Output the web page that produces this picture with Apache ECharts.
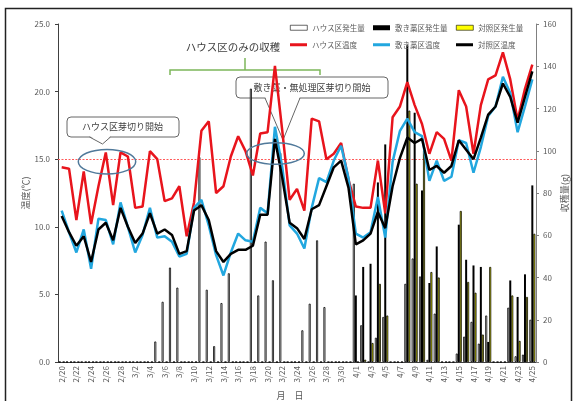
<!DOCTYPE html>
<html><head><meta charset="utf-8">
<script src="https://cdn.jsdelivr.net/npm/echarts@6/dist/echarts.min.js"></script>
<style>html,body{margin:0;padding:0;background:#fff}#c{width:576px;height:401px}</style>
</head><body><div id="c"></div>
<script>
const dates = ['2/20','2/21','2/22','2/23','2/24','2/25','2/26','2/27','2/28',
 '3/1','3/2','3/3','3/4','3/5','3/6','3/7','3/8','3/9','3/10','3/11','3/12','3/13','3/14','3/15','3/16','3/17','3/18','3/19','3/20','3/21','3/22','3/23','3/24','3/25','3/26','3/27','3/28','3/29','3/30','3/31',
 '4/1','4/2','4/3','4/4','4/5','4/6','4/7','4/8','4/9','4/10','4/11','4/12','4/13','4/14','4/15','4/16','4/17','4/18','4/19','4/20','4/21','4/22','4/23','4/24','4/25'];

const houseTemp = [14.4,14.3,10.5,14.1,10.2,13.0,15.5,11.6,15.5,15.2,
 11.4,11.5,15.6,15.0,11.9,12.1,13.0,9.3,11.8,17.1,
 17.8,12.5,13.0,15.2,16.7,15.6,13.8,16.9,17.0,21.9,
 17.1,12.0,12.8,11.2,18.0,17.8,15.0,15.4,16.2,13.5,
 11.5,11.4,11.4,14.9,11.0,18.1,18.9,20.7,19.0,17.6,
 15.4,17.0,16.5,14.9,20.1,18.9,15.4,19.0,20.9,21.2,
 22.9,20.9,17.9,20.2,22.0];
const shikiTemp = [11.2,9.6,8.1,9.8,6.9,10.6,10.5,8.7,11.8,10.0,
 8.1,9.4,11.4,9.2,9.3,8.9,7.8,8.0,11.4,12.0,
 10.1,7.9,6.4,8.1,9.5,9.0,8.9,11.4,11.0,17.4,
 14.4,10.1,9.5,8.4,11.4,13.6,13.3,14.9,16.0,13.6,
 9.5,9.2,9.6,12.2,9.2,14.8,17.1,18.0,17.0,16.7,
 13.4,14.9,13.4,13.7,16.4,16.2,14.0,15.9,18.2,18.9,
 21.1,19.9,17.0,18.9,20.9];
const taishoTemp = [10.8,9.6,8.6,9.3,7.4,9.8,10.3,9.0,11.4,10.0,
 8.8,9.5,11.0,9.5,9.8,9.4,8.0,8.2,11.2,11.6,
 10.5,8.2,7.4,8.0,8.3,8.3,8.6,10.9,10.9,16.5,
 13.6,10.3,9.9,9.1,11.3,11.6,13.0,14.4,14.9,12.9,
 8.7,9.0,9.5,11.1,9.9,13.0,15.1,16.6,16.2,16.5,
 14.2,14.5,14.0,14.5,16.4,15.7,15.0,16.6,18.3,18.9,
 20.6,19.6,17.7,19.6,21.5];

const houseYield = [0,0,0,0,0,0,0,0,0,0,
 0,0,0,9.7,28.5,44.7,35.2,0,0,97,
 34.2,7.5,27.9,42,0,0,129.4,31.5,57,38.7,
 99,0,0,15,27.6,57.6,26,0,0,0,
 84.4,17.4,0,11.5,21.3,0,0,37,49,40.5,
 1,22.9,0,0,4,12,19,8.7,22,0,
 0,25.7,2.7,3.5,20];
const shikiYield = [0,0,0,0,0,0,0,0,0,0,
 0,0,0,0,0,0,0,0,0,0,
 0,0,0,0,0,0,0,0,0,0,
 0,0,0,0,0,0,0,0,0,0,
 31.5,45,46.5,85,103,0,0,150,118,81.2,
 37.4,54.7,0,0,65,48.4,45.7,45,9.5,0,
 0,38.6,30.8,41.5,83.6];
const taishoYield = [0,0,0,0,0,0,0,0,0,0,
 0,0,0,0,0,0,0,0,0,0,
 0,0,0,0,0,0,0,0,0,0,
 0,0,0,0,0,0,0,0,0,0,
 0,1.1,9,37,22,0,0,119,84.4,100,
 42.6,40,0,0,71.5,37.9,32.8,13,45,0,
 0,31.5,10,30.8,60.7];

const tempTicks = [0, 25, 5];
const yieldTicks = [0, 160, 20];
const refTemp = 15;

const FONT = '"Noto Sans CJK JP", "Noto Sans", sans-serif';
const GRAY = '#595959';
const REF = '#ff5a5a';
const chart = echarts.init(document.getElementById('c'), null, {renderer: 'canvas'});

function leg(name, left, top, h, style) {
  const item = {name: name, icon: 'rect', itemStyle: style};
  return {show: true, data: [item], left: left, top: top, itemWidth: 17, itemHeight: h,
    padding: 0, selectedMode: false,
    textStyle: {fontSize: 7.5, color: GRAY, fontFamily: FONT}};
}

const option = {
  animation: false,
  textStyle: {fontFamily: FONT},
  grid: {left: 58, right: 40, top: 24, bottom: 39, containLabel: false, outerBoundsMode: 'none'},
  legend: [
    leg('ハウス区発生量', 290, 24, 5, {color: '#ffffff', borderColor: '#000', borderWidth: 0.6}),
    leg('敷き藁区発生量', 373, 24, 5, {color: '#000000', borderWidth: 0}),
    leg('対照区発生量', 456, 24, 5, {color: '#ffff00', borderColor: '#000', borderWidth: 0.6}),
    leg('ハウス区温度', 290, 41, 3, {color: '#e8141c', borderWidth: 0}),
    leg('敷き藁区温度', 373, 41, 3, {color: '#22a7df', borderWidth: 0}),
    leg('対照区温度', 456, 41, 3, {color: '#000000', borderWidth: 0})
  ],
  xAxis: {
    type: 'category', data: dates, boundaryGap: true,
    axisLine: {lineStyle: {color: '#404040', width: 1}},
    axisTick: {alignWithLabel: true, interval: 1, length: 3, lineStyle: {color: '#404040'}},
    axisLabel: {interval: 1, rotate: 90, fontSize: 8, color: GRAY, margin: 4, fontFamily: FONT},
    splitLine: {show: false}
  },
  yAxis: [
    {type: 'value', min: tempTicks[0], max: tempTicks[1], interval: tempTicks[2],
     name: '温度(℃)', nameLocation: 'middle', nameRotate: 90, nameGap: 28, nameMoveOverlap: false,
     nameTextStyle: {fontSize: 9, color: GRAY, fontFamily: FONT},
     axisLine: {show: true, lineStyle: {color: '#404040'}},
     axisTick: {show: true, length: 3, lineStyle: {color: '#404040'}},
     axisLabel: {formatter: v => v.toFixed(1), fontSize: 8, color: GRAY, margin: 8},
     splitLine: {show: false}},
    {type: 'value', min: yieldTicks[0], max: yieldTicks[1], interval: yieldTicks[2], position: 'right',
     name: '収穫量(g)', nameLocation: 'middle', nameRotate: 90, nameGap: 24, nameMoveOverlap: false,
     nameTextStyle: {fontSize: 9, color: GRAY, fontFamily: FONT},
     axisLine: {show: true, lineStyle: {color: '#808080'}},
     axisTick: {show: true, length: 3, lineStyle: {color: '#808080'}},
     axisLabel: {fontSize: 8, color: GRAY, margin: 7},
     splitLine: {show: false}}
  ],
  series: [
    {name: 'ハウス区発生量', type: 'bar', yAxisIndex: 1, data: houseYield, barWidth: 2, barGap: '0%',
     itemStyle: {color: '#ffffff', borderColor: '#000000', borderWidth: 0.8}},
    {name: '敷き藁区発生量', type: 'bar', yAxisIndex: 1, data: shikiYield, barWidth: 2, barGap: '0%',
     itemStyle: {color: '#000000'}},
    {name: '対照区発生量', type: 'bar', yAxisIndex: 1, data: taishoYield, barWidth: 2, barGap: '0%',
     itemStyle: {color: '#ffff00', borderColor: '#000000', borderWidth: 0.8}},
    {name: 'ハウス区温度', type: 'line', data: houseTemp, symbol: 'none', z: 3,
     lineStyle: {color: '#e8141c', width: 2.5}, itemStyle: {color: '#e8141c'},
     markLine: {silent: true, symbol: ['none', 'none'], label: {show: false}, z: 1,
       emphasis: {disabled: true},
       itemStyle: {color: REF},
       lineStyle: {color: REF, type: [2, 1.5], width: 1, opacity: 1},
       data: [{yAxis: refTemp, itemStyle: {color: REF}, lineStyle: {color: REF, type: [2, 1.5], width: 1}}]}},
    {name: '敷き藁区温度', type: 'line', data: shikiTemp, symbol: 'none', z: 3,
     lineStyle: {color: '#22a7df', width: 2.5}, itemStyle: {color: '#22a7df'}},
    {name: '対照区温度', type: 'line', data: taishoTemp, symbol: 'none', z: 3,
     lineStyle: {color: '#000000', width: 2.5}, itemStyle: {color: '#000000'}}
  ],
  graphic: {elements: [
    {type: 'rect', silent: true, z: 0, shape: {x: 5.5, y: 8.5, width: 566, height: 420},
     style: {fill: 'none', stroke: '#222', lineWidth: 1.5}},
    {type: 'text', z: 1, x: 233, y: 47, style: {text: 'ハウス区のみの収穫', fontSize: 10.5, fontFamily: FONT,
     fill: '#404040', align: 'center', verticalAlign: 'middle'}},
    {type: 'polyline', z: 1, shape: {points: [[170, 75], [170, 70], [320, 70], [320, 75]]},
     style: {fill: 'none', stroke: '#7cb65a', lineWidth: 1.5}},
    {type: 'line', z: 1, shape: {x1: 245, y1: 70, x2: 245, y2: 58},
     style: {stroke: '#7cb65a', lineWidth: 1.5}},
    {type: 'rect', z: 1, shape: {x: 67, y: 117, width: 112, height: 20, r: 4},
     style: {fill: '#fff', stroke: '#666', lineWidth: 1}},
    {type: 'polygon', z: 1.2, shape: {points: [[89, 135.5], [102.5, 144], [111, 135.5]]},
     style: {fill: '#fff', stroke: null}},
    {type: 'polyline', z: 1.3, shape: {points: [[89.5, 137], [102.5, 144], [110.5, 137]]},
     style: {fill: 'none', stroke: '#666', lineWidth: 1}},
    {type: 'text', z: 1.4, x: 122.5, y: 127, style: {text: 'ハウス区芽切り開始', fontSize: 9, fontFamily: FONT,
     fill: '#404040', align: 'center', verticalAlign: 'middle'}},
    {type: 'rect', z: 1, shape: {x: 236, y: 77, width: 152, height: 21, r: 4},
     style: {fill: '#fff', stroke: '#666', lineWidth: 1}},
    {type: 'polygon', z: 1.2, shape: {points: [[265, 96.5], [283, 140], [300, 96.5]]},
     style: {fill: '#fff', stroke: null}},
    {type: 'polyline', z: 1.3, shape: {points: [[265, 98], [283, 140], [300, 98]]},
     style: {fill: 'none', stroke: '#666', lineWidth: 1}},
    {type: 'text', z: 1.4, x: 312, y: 88, style: {text: '敷き藁・無処理区芽切り開始', fontSize: 9, fontFamily: FONT,
     fill: '#404040', align: 'center', verticalAlign: 'middle'}},
    {type: 'ellipse', z: 100, shape: {cx: 107, cy: 161.7, rx: 28.7, ry: 12.3},
     style: {fill: 'none', stroke: '#50799a', lineWidth: 1.5}},
    {type: 'ellipse', z: 100, shape: {cx: 275.5, cy: 153.5, rx: 28.8, ry: 10.8},
     style: {fill: 'none', stroke: '#50799a', lineWidth: 1.5}},
    {type: 'text', z: 1, x: 290, y: 396, style: {text: '月　日', fontSize: 9, fontFamily: FONT,
     fill: GRAY, align: 'center', verticalAlign: 'middle'}}
  ]}
};
chart.setOption(option);
</script>
</body></html>
